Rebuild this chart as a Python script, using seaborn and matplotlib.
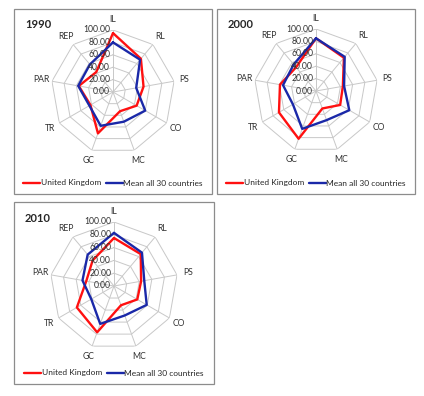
import matplotlib
matplotlib.use('Agg')
import matplotlib.pyplot as plt
import numpy as np
import pandas as pd
import seaborn as sns
from matplotlib.patches import Rectangle

categories = ['IL', 'RL', 'PS', 'CO', 'MC', 'GC', 'TR', 'PAR', 'REP']
series_names = ['United Kingdom', 'Mean all 30 countries']
years = ['1990', '2000', '2010']
uk_1990 = [95, 70, 50, 44, 33, 71, 42, 56, 42]
mean_1990 = [80, 68, 38, 60, 51, 58, 44, 57, 58]
uk_2000 = [85, 70, 44, 45, 30, 82, 69, 59, 50]
mean_2000 = [85, 72, 46, 62, 50, 65, 43, 54, 56]
uk_2010 = [75, 65, 43, 42, 32, 77, 67, 44, 52]
mean_2010 = [83, 68, 48, 59, 49, 63, 41, 50, 64]
ring_ticks = [0, 20, 40, 60, 80, 100]

values = {'1990': (uk_1990, mean_1990), '2000': (uk_2000, mean_2000), '2010': (uk_2010, mean_2010)}
colors = ['#ff1010', '#1a28a8']
grid_color = '#c8c8c8'

sns.set_style('white')
plt.rcParams['font.family'] = ['Lato', 'DejaVu Sans']

W, H = 424, 396
fig = plt.figure(figsize=(W / 100, H / 100), dpi=100)

# panel layout in pixels: (box x0, y0, x1, y1, center x, center y, radius)
panels = {
    '1990': (14, 9, 212, 194, 113, 92, 62),
    '2000': (217, 9, 415, 194, 316, 91, 62),
    '2010': (14, 202, 214, 384, 114, 286, 64),
}

n = len(categories)
theta = np.linspace(0, 2 * np.pi, n, endpoint=False)
theta_closed = np.append(theta, 2 * np.pi)

for year in years:
    bx0, by0, bx1, by1, cx, cy, rad = panels[year]
    fig.patches.append(Rectangle((bx0 / W, 1 - by1 / H), (bx1 - bx0) / W, (by1 - by0) / H,
                                 transform=fig.transFigure, fill=False,
                                 edgecolor='#8c8c8c', lw=0.9))
    ax = fig.add_axes([(cx - rad) / W, 1 - (cy + rad) / H, 2 * rad / W, 2 * rad / H],
                      projection='polar')
    ax.set_theta_offset(np.pi / 2)
    ax.set_theta_direction(-1)
    ax.set_ylim(0, 100)
    ax.grid(False)
    ax.spines['polar'].set_visible(False)
    ax.set_xticks([])
    ax.set_yticks([])
    ax.patch.set_alpha(0)

    # polygon rings and spokes
    for r in ring_ticks[1:]:
        ax.plot(theta_closed, [r] * (n + 1), color=grid_color, lw=0.7, zorder=1)
    for t in theta:
        ax.plot([t, t], [0, 100], color=grid_color, lw=0.7, zorder=1)

    uk, mean = values[year]
    df = pd.DataFrame({
        'theta': np.concatenate([theta_closed, theta_closed]),
        'value': uk + uk[:1] + mean + mean[:1],
        'series': [series_names[0]] * (n + 1) + [series_names[1]] * (n + 1),
    })
    sns.lineplot(data=df, x='theta', y='value', hue='series', sort=False, estimator=None,
                 palette=colors, linewidth=1.7, ax=ax, zorder=3)
    ax.set_xlabel('')
    ax.set_ylabel('')

    for r in ring_ticks:
        ax.annotate(f'{r:.2f}', xy=(0, r), xytext=(-2, 0), textcoords='offset points',
                    ha='right', va='center', fontsize=6.2, color='#333333', zorder=4)
    for t, lab in zip(theta, categories):
        ax.text(t, 117, lab, ha='center', va='center', fontsize=6.2, color='#333333',
                clip_on=False)

    handles, labels = ax.get_legend_handles_labels()
    ax.legend(handles, labels, loc='center',
              bbox_to_anchor=((bx0 + bx1) / 2 / W, 1 - (by1 - 11) / H),
              bbox_transform=fig.transFigure, ncol=2, frameon=False, fontsize=6.0,
              handlelength=2.0, handletextpad=0.1, columnspacing=0.6, borderaxespad=0)

    fig.text((bx0 + 11) / W, 1 - (by0 + 16) / H, year, fontsize=8, fontweight='bold',
             ha='left', va='center')

fig.savefig('out.png', dpi=100)
